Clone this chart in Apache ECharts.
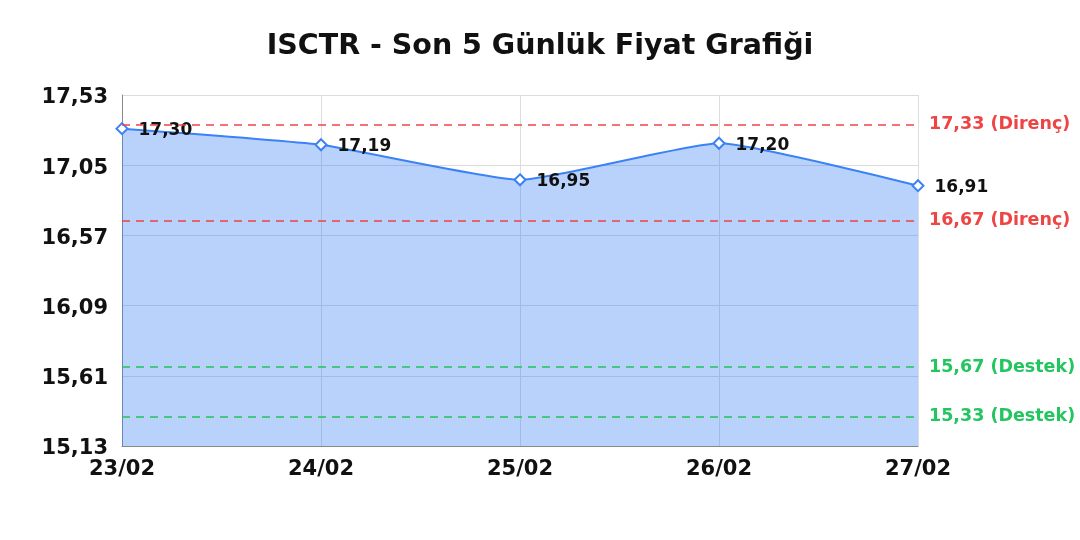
<!DOCTYPE html>
<html><head><meta charset="utf-8">
<script src="https://cdn.jsdelivr.net/npm/echarts@6/dist/echarts.min.js"></script>
<style>html,body{margin:0;padding:0;background:#fff}#c{width:1080px;height:540px}</style>
</head><body><div id="c"></div>
<script>
const categories = ['23/02','24/02','25/02','26/02','27/02'];
const prices = [17.30, 17.19, 16.95, 17.20, 16.91];
const resistance = [17.33, 16.67];
const support = [15.67, 15.33];
const yMin = 15.13, yMax = 17.53, yStep = 0.48;

const fmt = v => v.toFixed(2).replace('.', ',');
const F = 'DejaVu Sans';
const RED = '#ef4444', GREEN = '#22c55e', BLUE = '#3b82f6';
const chart = echarts.init(document.getElementById('c'));
const markData = [];
resistance.forEach(v => markData.push({yAxis: v, lineStyle:{color: RED}, label:{color: RED, formatter: fmt(v) + ' (Direnç)'}}));
support.forEach(v => markData.push({yAxis: v, lineStyle:{color: GREEN}, label:{color: GREEN, formatter: fmt(v) + ' (Destek)'}}));

chart.setOption({
  animation: false,
  title: {text: 'ISCTR - Son 5 Günlük Fiyat Grafiği', left: 'center', top: 27,
    textStyle: {fontFamily: F, fontWeight: 'bold', fontSize: 28.5, color: '#111'}},
  grid: {left: 122, right: 162, top: 95, bottom: 94},
  xAxis: {type: 'category', data: categories, boundaryGap: false,
    axisLine: {lineStyle: {color: '#888'}}, axisTick: {show: false},
    axisLabel: {fontFamily: F, fontWeight: 'bold', fontSize: 21, color: '#111', margin: 13},
    splitLine: {show: true, lineStyle: {color: '#dcdcdc'}}},
  yAxis: {type: 'value', min: yMin, max: yMax, interval: yStep,
    axisLine: {show: true, lineStyle: {color: '#888'}}, axisTick: {show: false},
    axisLabel: {margin: 14, formatter: v => '{a|' + fmt(v) + '}',
      rich: {a: {fontFamily: F, fontWeight: 'bold', fontSize: 21, color: '#111', padding: [6, 0, 0, 0]}}},
    splitLine: {lineStyle: {color: '#dcdcdc'}}},
  series: [{
    type: 'line', data: prices, smooth: 0.15, z: 2,
    symbol: 'emptyDiamond', symbolSize: 11,
    itemStyle: {color: BLUE, borderWidth: 2},
    lineStyle: {color: BLUE, width: 2},
    areaStyle: {color: BLUE, opacity: 0.36},
    label: {show: true, position: 'right', distance: 10, offset: [0, 2], fontFamily: F, fontWeight: 'bold', fontSize: 17, color: '#111', formatter: p => fmt(p.value)}
  }, {
    type: 'line', data: [], z: 10, zlevel: 1, silent: true,
    markLine: {symbol: 'none', silent: true,
      lineStyle: {type: [8, 6], width: 1.5},
      label: {position: 'end', fontFamily: F, fontWeight: 'bold', fontSize: 17.5, distance: 11},
      data: markData}
  }]
});
</script></body></html>
